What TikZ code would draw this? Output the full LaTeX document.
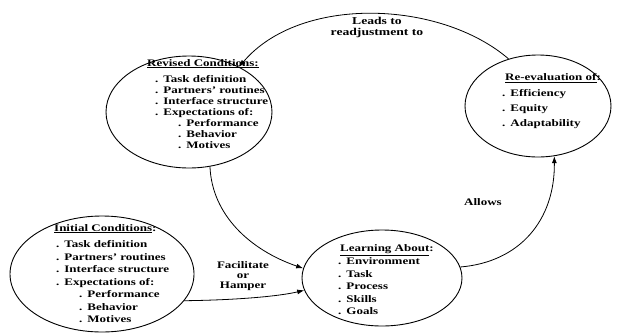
\documentclass[tikz,border=0pt]{standalone}
\usepackage{fontspec}
\setmainfont{Liberation Serif}[FakeStretch=1.3]
\usetikzlibrary{positioning,shapes.geometric,arrows.meta}
\newcommand{\itm}[2][0pt]{\hspace*{#1}.\hspace{5pt}#2}
\newcommand{\ttl}[1]{\underline{#1}}

\begin{document}
\begin{tikzpicture}[x=1pt,y=-1pt,
				cond/.style={draw,ellipse,line width=0.9pt,inner sep=0pt},
				lst/.style={align=left,inner sep=0pt,anchor=north west,font=\bfseries\fontsize{10}{11}\selectfont},
				lbl/.style={align=center,inner sep=0pt,font=\bfseries\fontsize{10}{10}\selectfont},
				arr/.style={-{Latex[length=7pt,width=5pt]},line width=0.8pt}]
				\useasboundingbox (0,0) rectangle (622,333);
				\node (REV)    [cond,minimum width=166pt,minimum height=112pt] at (189,112) {};
				\node (REEVAL) [cond,minimum width=146pt,minimum height=102pt] at (538,106) {};
				\node (INIT)   [cond,minimum width=184pt,minimum height=116pt] at (102,274) {};
				\node (LEARN)  [cond,minimum width=160pt,minimum height=96pt]  at (382,278) {};
				
				\node (REVTXT) [lst] at (147,59) {\ttl{Revised Conditions:}\\[5pt]
					\itm[8pt]{Task definition}\\ \itm[8pt]{Partners' routines}\\
					\itm[8pt]{Interface structure}\\ \itm[8pt]{Expectations of:}\\
					\itm[31pt]{Performance}\\ \itm[31pt]{Behavior}\\ \itm[31pt]{Motives}};
				\node (REEVALTXT) [lst] at (502,73) {\hspace*{3pt}\ttl{Re-evaluation of}:\\[5pt]
					\itm{Efficiency}\\[4pt] \itm{Equity}\\[4pt] \itm{Adaptability}};
				\node (INITTXT) [lst,font=\bfseries\fontsize{10}{12.5}\selectfont] at (54,224) {\ttl{Initial Conditions}:\\[4pt]
					\itm[2pt]{Task definition}\\ \itm[2pt]{Partners' routines}\\
					\itm[2pt]{Interface structure}\\ \itm[2pt]{Expectations of:}\\
					\itm[25pt]{Performance}\\ \itm[25pt]{Behavior}\\ \itm[25pt]{Motives}};
				\node (LEARNTXT) [lst,font=\bfseries\fontsize{10}{12.5}\selectfont] at (338,244) {\hspace*{2pt}\ttl{Learning About}:\\[1pt]
					\itm{Environment}\\ \itm{Task}\\ \itm{Process}\\ \itm{Skills}\\ \itm{Goals}};
				
				\node (LEADS)  [lbl,font=\bfseries\fontsize{10.5}{11}\selectfont] at (377,27)  {Leads to\\readjustment to};
				\node (FAC)    [lbl] at (243,276) {Facilitate\\or\\Hamper};
				\node (ALLOWS) [lbl] at (483,202) {Allows};
				
				\draw[arr] (REEVAL.122) .. controls (440,0) and (300,-5) .. (REV.42);
				\draw[arr] (REV.-69) .. controls (212,215) and (250,250) .. (LEARN.173);
				\draw[arr] (INIT.-18) .. controls (240,300) and (280,296) .. (LEARN.189);
				\draw[arr] (LEARN.8) .. controls (520,262) and (555,220) .. (REEVAL.-72);
			\end{tikzpicture}
\end{document}
